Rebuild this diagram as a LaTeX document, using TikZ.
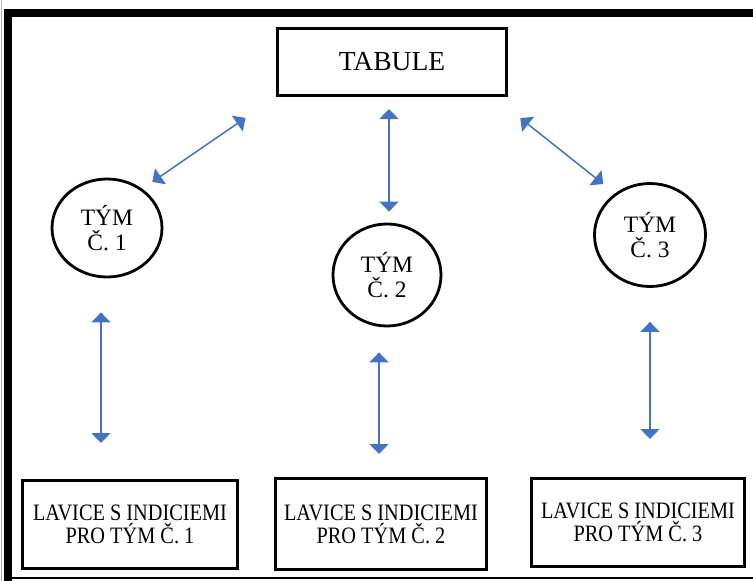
\documentclass[tikz,border=0pt]{standalone}
\usepackage{fontspec}
\setmainfont{Liberation Serif}
\newfontfamily\benchfont{Liberation Serif}[FakeStretch=0.865]
\usepackage{tikz}
\usetikzlibrary{arrows.meta, shapes.geometric}
\definecolor{linkblue}{RGB}{68,114,196}

\begin{document}
\begin{tikzpicture}[
		x=1pt, y=-1pt,
		board/.style={
			draw,
			line width=3pt,
			align=center,
			minimum width=229pt,
			minimum height=67pt,
			font=\fontsize{27.5}{30}\selectfont
		},
		team/.style={
			draw,
			ellipse,
			line width=2.8pt,
			align=center,
			inner sep=0pt,
			font=\fontsize{23.5}{24.5}\selectfont
		},
		bench/.style={
			draw,
			line width=3pt,
			align=center,
			minimum height=88pt,
			font=\benchfont\fontsize{23.5}{23}\selectfont
		},
		arrow/.style={
			{Triangle[length=10pt,width=19pt]}-{Triangle[length=10pt,width=19pt]},
			line width=1.5pt,
			draw=linkblue
		}
		]
		
		% Page and frame
		\useasboundingbox (0,0) rectangle (753,581);
		\fill[white] (0,0) rectangle (753,581);
		\draw[gray!60, line width=1pt] (1,0) -- (1,581);
		\fill (4,9) rectangle (753,17);
		\fill (4,9) rectangle (12,581);
		\draw[line width=1.5pt] (12,578) -- (753,578);
		
		% Blocks
		\node[board] at (392,62) (board) {TABULE};
		\node[team, minimum width=110pt, minimum height=98pt] at (107,228) (team1) {TÝM\\Č. 1};
		\node[team, minimum width=108pt, minimum height=102pt] at (387,275) (team2) {TÝM\\Č. 2};
		\node[team, minimum width=111pt, minimum height=103pt] at (650,235) (team3) {TÝM\\Č. 3};
		\node[bench, minimum width=215pt] at (130,524.5) (bench1) {LAVICE S INDICIEMI\\PRO TÝM Č. 1};
		\node[bench, minimum width=211pt, minimum height=91pt] at (381,524) (bench2) {LAVICE S INDICIEMI\\PRO TÝM Č. 2};
		\node[bench, minimum width=213pt] at (638,522.5) (bench3) {LAVICE S INDICIEMI\\PRO TÝM Č. 3};
		
		% Arrows
		\draw[arrow, shorten <=37pt, shorten >=12pt] (board.south west) -- (team1.48);
		\draw[arrow, shorten <=12pt, shorten >=11pt] ([xshift=-3pt]board.south) -- ([xshift=-3pt]board.south |- team2.north);
		\draw[arrow, shorten <=34pt, shorten >=15pt] (board.-19.5) -- (team3.130);
		\draw[arrow, shorten <=34pt, shorten >=36pt] ([xshift=-6pt]team1.south) -- ([xshift=-6pt]team1.south |- bench1.north);
		\draw[arrow, shorten <=25pt, shorten >=23pt] ([xshift=-8pt]team2.south) -- ([xshift=-8pt]team2.south |- bench2.north);
		\draw[arrow, shorten <=34pt, shorten >=38pt] (team3.south) -- (team3.south |- bench3.north);
		
	\end{tikzpicture}
\end{document}
